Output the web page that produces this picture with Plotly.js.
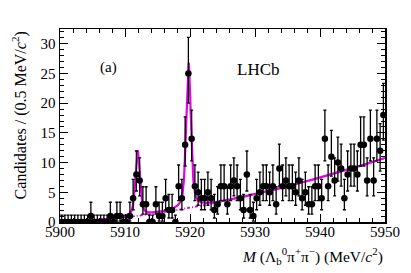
<!DOCTYPE html>
<html>
<head>
<meta charset="utf-8">
<script src="https://cdn.plot.ly/plotly-3.0.1.min.js"></script>
<style>html,body{margin:0;padding:0;background:#fff;}#chart{width:411px;height:273px;}</style>
</head>
<body>
<div id="chart"></div>
<script>
// Histogram binning (MeV/c^2)
const binLow = 5900;
const binWidth = 0.5;
// Candidates per 0.5 MeV/c^2 bin (100 bins, 5900-5950)
const counts = [
  0,0,0,0,0,0,0,0,0,1,
  0,0,0,0,0,1,0,1,1,0,
  0,1,4,8,7,3,3,0,0,3,
  1,1,4,2,2,0,6,4,13,25,
  14,6,5,4,4,5,4,2,3,6,
  6,3,6,7,6,4,2,8,2,1,
  4,5,6,6,5,6,3,9,6,7,
  6,6,5,7,4,5,3,3,6,6,
  4,14,6,11,7,10,9,4,8,9,
  9,8,13,13,7,14,7,14,12,18
];
// Fit model parameters
const peakMass = [5911.95, 5919.78];
const peakFWHM = [0.8, 0.85];
const peakAmp = [11.0, 24.5];
const bkgThreshold = 5900;
const bkgRefDelta = 11;   // MeV above threshold
const bkgRefValue = 0.9;  // counts/bin at reference
const bkgPower = 1.64;

const binCenters = counts.map((_, i) => binLow + binWidth * (i + 0.5));
const errPlus = counts.map(n => n === 0 ? 1.15 : Math.sqrt(n + 0.75) + 1);
const errMinus = counts.map(n => n === 0 ? 0 : Math.sqrt(n - 0.25));

function bkg(m) {
  const d = m - bkgThreshold;
  return d <= 0 ? 0 : bkgRefValue * Math.pow(d / bkgRefDelta, bkgPower);
}
function peak(m, k) {
  const d = m - peakMass[k];
  const w = peakFWHM[k];
  const sig = w / 2.3548;
  const g = Math.exp(-0.5 * d * d / (sig * sig));
  const l = 1 / (1 + Math.pow(2 * d / w, 2));
  return peakAmp[k] * (0.5 * g + 0.5 * l);
}
const fitX = [], fitTot = [], fitBkg = [];
for (let m = 5900; m <= 5950.0001; m += 0.05) {
  fitX.push(m);
  fitBkg.push(bkg(m));
  fitTot.push(bkg(m) + peak(m, 0) + peak(m, 1));
}

const serif = 'Liberation Serif, Times New Roman, serif';
const traces = [
  {x: fitX, y: fitBkg, mode: 'lines', line: {color: 'rgb(220,0,220)', width: 1.8, dash: '3px,2px,1px,2px'}, hoverinfo: 'skip'},
  {x: fitX, y: fitTot, mode: 'lines', line: {color: 'rgb(230,0,230)', width: 2.2}, hoverinfo: 'skip'},
  {x: binCenters, y: counts, mode: 'markers', marker: {color: 'black', size: 6.5},
   error_y: {type: 'data', symmetric: false, array: errPlus, arrayminus: errMinus, color: 'black', thickness: 1.3, width: 1.5}}
];

const axisCommon = {
  showgrid: false, zeroline: false, showline: true, linecolor: 'black', linewidth: 1.5,
  mirror: 'ticks', ticks: 'inside', ticklen: 8, tickwidth: 1, tickcolor: 'black',
  tickfont: {family: serif, size: 15, color: 'black'}
};
const layout = {
  width: 411, height: 273,
  margin: {l: 60, r: 26, t: 29, b: 51},
  paper_bgcolor: 'white', plot_bgcolor: 'white',
  showlegend: false,
  xaxis: Object.assign({}, axisCommon, {
    range: [5900, 5950], tickvals: [5900, 5910, 5920, 5930, 5940, 5950],
    ticklabelstandoff: -5,
    minor: {dtick: 2, ticklen: 4, ticks: 'inside', tickcolor: 'black'}
  }),
  yaxis: Object.assign({}, axisCommon, {
    range: [0, 32.5], tickvals: [0, 5, 10, 15, 20, 25, 30],
    minor: {dtick: 1, ticklen: 4, ticks: 'inside', tickcolor: 'black'}
  }),
  annotations: [
    {text: 'Candidates / (0.5 MeV/<i>c</i><sup>2</sup>)', textangle: -90,
     xref: 'paper', yref: 'paper', x: -0.125, y: 1.0, xanchor: 'center', yanchor: 'top',
     showarrow: false, font: {family: serif, size: 16, color: 'black'}},
    {text: '<i>M</i> (Λ<sub>b</sub><sup>0</sup>π<sup>+</sup>π<sup>−</sup>) (MeV/<i>c</i><sup>2</sup>)',
     xref: 'paper', yref: 'paper', x: 1.0, y: -0.175, xanchor: 'right', yanchor: 'middle',
     showarrow: false, font: {family: serif, size: 15.5, color: 'black'}},
    {text: '(a)', xref: 'x', yref: 'y', x: 5907.5, y: 26.1, showarrow: false,
     font: {family: serif, size: 15, color: 'black'}},
    {text: 'LHCb', xref: 'x', yref: 'y', x: 5930.6, y: 25.6, showarrow: false,
     font: {family: serif, size: 17, color: 'black'}}
  ]
};
Plotly.newPlot('chart', traces, layout, {staticPlot: true, displayModeBar: false});
</script>
</body>
</html>
